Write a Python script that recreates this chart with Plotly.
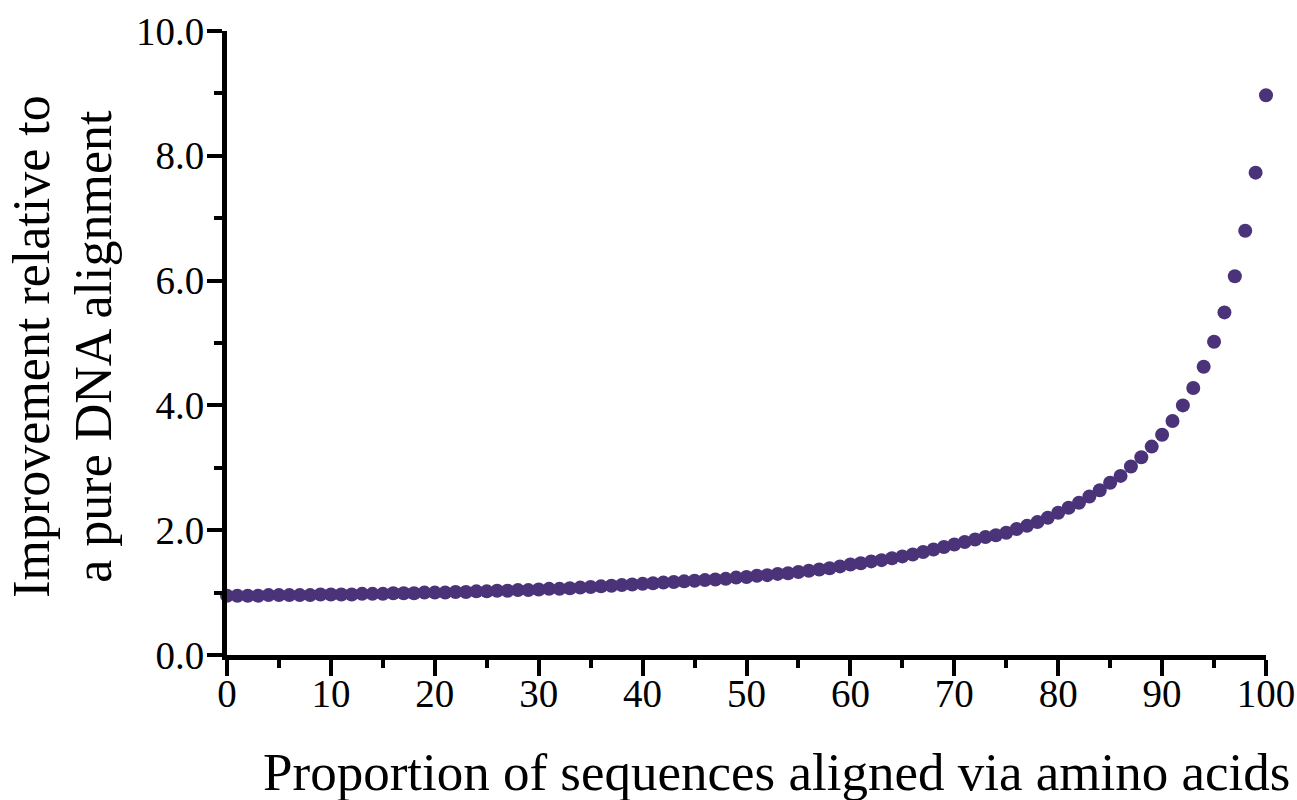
import plotly.graph_objects as go

proportion = list(range(0, 101))
improvement = [
    0.95, 0.95, 0.95, 0.95, 0.96, 0.96, 0.96, 0.96, 0.96, 0.97, 0.97,
    0.97, 0.97, 0.98, 0.98, 0.98, 0.99, 0.99, 0.99, 1.00, 1.00,
    1.00, 1.01, 1.01, 1.02, 1.02, 1.03, 1.03, 1.04, 1.04, 1.05,
    1.06, 1.06, 1.07, 1.08, 1.09, 1.10, 1.11, 1.12, 1.13, 1.14,
    1.15, 1.16, 1.17, 1.18, 1.19, 1.20, 1.21, 1.22, 1.24, 1.25,
    1.27, 1.28, 1.30, 1.31, 1.33, 1.35, 1.37, 1.39, 1.42, 1.45,
    1.47, 1.50, 1.52, 1.55, 1.58, 1.61, 1.65, 1.69, 1.73, 1.77,
    1.81, 1.85, 1.89, 1.92, 1.96, 2.02, 2.07, 2.13, 2.20, 2.28,
    2.36, 2.44, 2.54, 2.64, 2.76, 2.87, 3.02, 3.17, 3.34, 3.53,
    3.75, 4.00, 4.28, 4.62, 5.02, 5.49, 6.07, 6.80, 7.73, 8.97,
]

x_ticks = list(range(0, 101, 10))
y_ticks = [0, 2, 4, 6, 8, 10]
y_tick_labels = ["0.0", "2.0", "4.0", "6.0", "8.0", "10.0"]
x_title = "Proportion of sequences aligned via amino acids"
y_title_lines = ["Improvement relative to", "a pure DNA alignment"]

FONT = "Liberation Serif, Times New Roman, serif"

fig = go.Figure()
fig.add_trace(go.Scatter(
    x=proportion, y=improvement, mode="markers",
    marker=dict(size=14, color="#4b3379", line=dict(width=0)),
    cliponaxis=False, hoverinfo="x+y",
))

fig.update_layout(
    width=1297, height=800,
    margin=dict(l=227, r=31, t=31, b=145),
    paper_bgcolor="white", plot_bgcolor="white",
    showlegend=False,
    font=dict(family=FONT, color="black"),
)

fig.update_xaxes(
    range=[0, 100], tickvals=x_ticks, ticktext=[str(v) for v in x_ticks],
    automargin=False,
    showgrid=False, zeroline=False,
    showline=True, linecolor="black", linewidth=5,
    ticks="outside", ticklen=16, tickwidth=4, tickcolor="black",
    ticklabelstandoff=-16,
    minor=dict(dtick=5, tick0=0, ticks="outside", ticklen=8, tickwidth=4, tickcolor="black", showgrid=False),
    tickfont=dict(family=FONT, size=39, color="black"),
)

fig.update_yaxes(
    range=[0, 10], tickvals=y_ticks, ticktext=y_tick_labels,
    automargin=False,
    showgrid=False, zeroline=False,
    showline=True, linecolor="black", linewidth=5,
    ticks="outside", ticklen=15, tickwidth=4, tickcolor="black",
    ticklabelstandoff=-5,
    minor=dict(dtick=1, tick0=0, ticks="outside", ticklen=8, tickwidth=4, tickcolor="black", showgrid=False),
    tickfont=dict(family=FONT, size=39, color="black"),
)

fig.add_annotation(
    text=x_title,
    xref="paper", yref="paper", x=0.529, y=0, xanchor="center", yanchor="top",
    yshift=-86, showarrow=False,
    font=dict(family=FONT, size=53, color="black"),
)

for line, xs in zip(y_title_lines, [-195, -133]):
    fig.add_annotation(
        text=line, textangle=-90,
        xref="paper", yref="paper", x=0, y=0.494, xanchor="center", yanchor="middle",
        xshift=xs, showarrow=False,
        font=dict(family=FONT, size=52, color="black"),
    )

fig.write_html(
    "out.html",
    config={"displayModeBar": False},
    post_script="document.body.style.margin='0';document.documentElement.style.overflow='hidden';document.body.style.overflow='hidden';",
)
